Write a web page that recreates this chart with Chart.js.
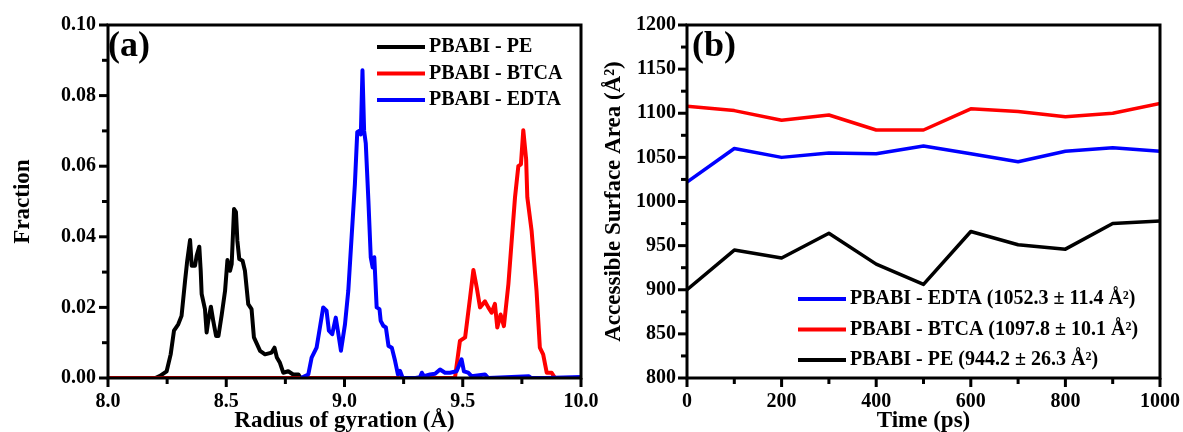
<!DOCTYPE html>
<html>
<head>
<meta charset="utf-8">
<script src="https://cdn.jsdelivr.net/npm/chart.js@4.4.1/dist/chart.umd.min.js"></script>
<style>
  html, body { margin: 0; padding: 0; background: #fff; }
  #wrap { position: relative; width: 1183px; height: 432px; overflow: hidden; }
  canvas { position: absolute; top: 0; }
</style>
</head>
<body>
<div id="wrap">
  <canvas id="chartA" width="612" height="432" style="left:0"></canvas>
  <canvas id="chartB" width="591" height="432" style="left:592px"></canvas>
</div>
<script>
// (a) fraction vs radius of gyration (Å)
const rgPE = [8.0, 8.20, 8.22, 8.248, 8.265, 8.279, 8.297, 8.311, 8.326, 8.335, 8.347, 8.354, 8.368, 8.375, 8.386, 8.392, 8.396, 8.41, 8.417, 8.424, 8.435, 8.445, 8.457, 8.467, 8.481, 8.495, 8.505, 8.516, 8.523, 8.533, 8.541, 8.547, 8.555, 8.569, 8.579, 8.593, 8.607, 8.617, 8.643, 8.664, 8.692, 8.704, 8.714, 8.727, 8.741, 8.762, 8.783, 8.805, 8.815];
const fracPE = [0, 0, 0.0006, 0.0019, 0.0067, 0.0134, 0.0152, 0.0176, 0.0276, 0.0332, 0.0391, 0.0318, 0.0318, 0.0347, 0.0372, 0.0304, 0.0238, 0.0195, 0.0129, 0.0162, 0.0202, 0.0162, 0.0119, 0.0119, 0.018, 0.0247, 0.0334, 0.0304, 0.0323, 0.0479, 0.047, 0.0389, 0.0337, 0.0332, 0.0304, 0.0209, 0.0195, 0.0115, 0.0077, 0.0067, 0.0072, 0.0086, 0.0058, 0.0043, 0.0015, 0.0019, 0.001, 0.001, 0];

const rgBTCA = [8.0, 9.467, 9.488, 9.51, 9.531, 9.545, 9.559, 9.573, 9.594, 9.608, 9.622, 9.636, 9.646, 9.66, 9.674, 9.693, 9.707, 9.721, 9.735, 9.746, 9.756, 9.768, 9.773, 9.791, 9.812, 9.826, 9.84, 9.855, 9.876, 9.89];
const fracBTCA = [0, 0, 0.0105, 0.0115, 0.0228, 0.0306, 0.0257, 0.020, 0.0217, 0.020, 0.0185, 0.021, 0.0143, 0.018, 0.0147, 0.0266, 0.039, 0.0512, 0.060, 0.0605, 0.0702, 0.062, 0.0512, 0.0418, 0.0247, 0.0086, 0.0067, 0.0015, 0.0015, 0];

const rgEDTA = [8.815, 8.847, 8.861, 8.882, 8.896, 8.91, 8.924, 8.934, 8.948, 8.963, 8.972, 8.985, 9.002, 9.016, 9.03, 9.044, 9.054, 9.063, 9.069, 9.076, 9.083, 9.09, 9.101, 9.111, 9.119, 9.126, 9.136, 9.148, 9.153, 9.164, 9.175, 9.186, 9.2, 9.214, 9.226, 9.235, 9.246, 9.30, 9.319, 9.327, 9.336, 9.362, 9.383, 9.404, 9.425, 9.446, 9.474, 9.495, 9.505, 9.523, 9.537, 9.594, 9.608, 9.78, 9.79, 9.85, 10.0];
const fracEDTA = [0, 0.001, 0.0058, 0.0086, 0.0143, 0.020, 0.0191, 0.0134, 0.0124, 0.0171, 0.0134, 0.0077, 0.0152, 0.0247, 0.0399, 0.055, 0.0697, 0.070, 0.069, 0.0872, 0.070, 0.0664, 0.0503, 0.0342, 0.0313, 0.0342, 0.020, 0.0195, 0.0162, 0.0148, 0.0143, 0.0091, 0.0086, 0.0048, 0.001, 0.002, 0, 0, 0.0002, 0.0015, 0.0005, 0.001, 0.0012, 0.0024, 0.0015, 0.0015, 0.0019, 0.0053, 0.0019, 0.0015, 0.0005, 0.001, 0, 0.0005, 0, 0, 0.0003];

// (b) accessible surface area vs time
const timePs = [0, 100, 200, 300, 400, 500, 600, 700, 800, 900, 1000];
const asaEDTA = [1022, 1060, 1050, 1055, 1054, 1063, 1054, 1045, 1057, 1061, 1057];
const asaBTCA = [1108, 1103, 1092, 1098, 1081, 1081, 1105, 1102, 1096, 1100, 1111];
const asaPE = [900, 945, 936, 964, 929, 906, 966, 951, 946, 975, 978];

const serif = '"Liberation Serif", "Times New Roman", serif';
Chart.defaults.font.family = serif;
Chart.defaults.font.weight = 'bold';
Chart.defaults.font.size = 20;
Chart.defaults.color = '#000';

const pts = (xs, ys) => xs.map((x, i) => ({x: x, y: ys[i]}));
const onStep = (v, step) => Math.abs(v / step - Math.round(v / step)) < 1e-6;

// box frame plus outward major/minor ticks, positions come from the scales
const frameTicks = {
    id: 'frameTicks',
    afterDraw(chart, args, opts) {
        const ctx = chart.ctx;
        const a = chart.chartArea;
        ctx.save();
        ctx.fillStyle = '#000';
        const xs = chart.scales.x, ys = chart.scales.y;
        const xStep = xs.options.ticks.stepSize, yStep = ys.options.ticks.stepSize;
        for (let v = xs.min; v <= xs.max + xStep / 2; v += xStep) {
            const len = onStep(v, opts.majorX) ? 8 : 5;
            const p = xs.getPixelForValue(v);
            ctx.fillRect(p - 1.5, a.bottom, 3, len + 1);
        }
        for (let v = ys.min; v <= ys.max + yStep / 2; v += yStep) {
            const len = onStep(v, opts.majorY) ? 8 : 5;
            const p = ys.getPixelForValue(v);
            ctx.fillRect(a.left - len - 1, p - 1.5, len + 1, 3);
        }
        ctx.strokeStyle = '#000';
        ctx.lineWidth = 3;
        ctx.strokeRect(a.left, a.top, a.right - a.left, a.bottom - a.top);
        ctx.restore();
    }
};

// legend drawn inside the plot, plus the (a)/(b) tag
const panelLegend = {
    id: 'panelLegend',
    afterDraw(chart, args, opts) {
        const ctx = chart.ctx;
        ctx.save();
        ctx.font = 'bold 20px ' + serif;
        ctx.textBaseline = 'middle';
        chart.data.datasets.forEach((ds, i) => {
            const y = opts.y + i * opts.gap;
            ctx.strokeStyle = ds.borderColor;
            ctx.lineWidth = 4;
            ctx.beginPath();
            ctx.moveTo(opts.x, y);
            ctx.lineTo(opts.x + 48, y);
            ctx.stroke();
            ctx.fillStyle = '#000';
            ctx.fillText(ds.label, opts.x + 52, y);
        });
        ctx.font = 'bold 36px ' + serif;
        ctx.textBaseline = 'alphabetic';
        ctx.fillText(opts.tag, chart.chartArea.left + opts.tagDx, 56);
        ctx.restore();
    }
};

function fixWidth(w) {
    return s => { s.width = w; s.paddingTop = 0; s.paddingBottom = 0; };
}
function fixHeight(h) {
    return s => { s.height = h; s.paddingLeft = 0; s.paddingRight = 0; };
}

const styleA = {borderWidth: 4, pointRadius: 0, tension: 0, borderJoinStyle: 'round', fill: false};
const styleB = {borderWidth: 3.5, pointRadius: 0, tension: 0, borderJoinStyle: 'round', fill: false};

new Chart(document.getElementById('chartA'), {
    type: 'line',
    data: {
        datasets: [
            Object.assign({label: 'PBABI - PE', data: pts(rgPE, fracPE), borderColor: '#000000', order: 3}, styleA),
            Object.assign({label: 'PBABI - BTCA', data: pts(rgBTCA, fracBTCA), borderColor: '#ff0000', order: 2}, styleA),
            Object.assign({label: 'PBABI - EDTA', data: pts(rgEDTA, fracEDTA), borderColor: '#0000ff', order: 1}, styleA)
        ]
    },
    options: {
        responsive: false,
        animation: false,
        layout: {padding: {left: 0, top: 25, right: 31, bottom: 0}},
        plugins: {
            legend: {display: false},
            tooltip: {enabled: false},
            frameTicks: {majorX: 0.5, majorY: 0.02},
            panelLegend: {x: 377, y: 47, gap: 26.5, tag: '(a)', tagDx: 0}
        },
        scales: {
            x: {
                type: 'linear', min: 8, max: 10,
                grid: {display: false, drawTicks: false},
                border: {display: false},
                ticks: {stepSize: 0.25, autoSkip: false, maxRotation: 0, padding: 12,
                    callback: v => onStep(v, 0.5) ? v.toFixed(1) : ''},
                title: {display: true, text: 'Radius of gyration (Å)', font: {size: 23}, padding: {bottom: -3}},
                afterFit: fixHeight(54)
            },
            y: {
                min: 0, max: 0.1,
                grid: {display: false, drawTicks: false},
                border: {display: false},
                ticks: {stepSize: 0.01, autoSkip: false, padding: 12,
                    callback: v => onStep(v, 0.02) ? v.toFixed(2) : ''},
                title: {display: true, text: 'Fraction', font: {size: 23}, padding: {top: 9}},
                afterFit: fixWidth(108)
            }
        }
    },
    plugins: [frameTicks, panelLegend]
});

new Chart(document.getElementById('chartB'), {
    type: 'line',
    data: {
        labels: timePs,
        datasets: [
            Object.assign({label: 'PBABI - EDTA (1052.3 ± 11.4 Å²)', data: pts(timePs, asaEDTA), borderColor: '#0000ff'}, styleB),
            Object.assign({label: 'PBABI - BTCA (1097.8 ± 10.1 Å²)', data: pts(timePs, asaBTCA), borderColor: '#ff0000'}, styleB),
            Object.assign({label: 'PBABI - PE (944.2 ± 26.3 Å²)', data: pts(timePs, asaPE), borderColor: '#000000'}, styleB)
        ]
    },
    options: {
        responsive: false,
        animation: false,
        layout: {padding: {left: 0, top: 25, right: 23, bottom: 0}},
        plugins: {
            legend: {display: false},
            tooltip: {enabled: false},
            frameTicks: {majorX: 200, majorY: 50},
            panelLegend: {x: 206, y: 299, gap: 30.5, tag: '(b)', tagDx: 5}
        },
        scales: {
            x: {
                type: 'linear', min: 0, max: 1000,
                grid: {display: false, drawTicks: false},
                border: {display: false},
                ticks: {stepSize: 100, autoSkip: false, maxRotation: 0, padding: 12,
                    callback: v => onStep(v, 200) ? String(v) : ''},
                title: {display: true, text: 'Time (ps)', font: {size: 23}, padding: {bottom: -3}},
                afterFit: fixHeight(54)
            },
            y: {
                min: 800, max: 1200,
                grid: {display: false, drawTicks: false},
                border: {display: false},
                ticks: {stepSize: 25, autoSkip: false, padding: 11,
                    callback: v => onStep(v, 50) ? String(v) : ''},
                title: {display: true, text: 'Accessible Surface Area (Å²)', font: {size: 23}, padding: {top: 8}},
                afterFit: fixWidth(95)
            }
        }
    },
    plugins: [frameTicks, panelLegend]
});
</script>
</body>
</html>
